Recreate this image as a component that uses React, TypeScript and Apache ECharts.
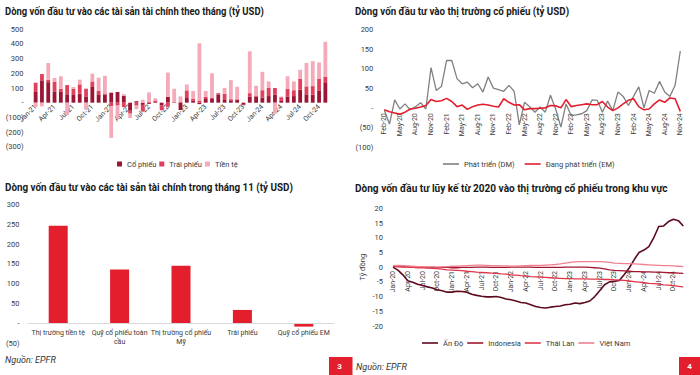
import React, { useEffect, useRef } from 'react';
import * as echarts from 'echarts';

const MON = ['Jan', 'Feb', 'Mar', 'Apr', 'May', 'Jun', 'Jul', 'Aug', 'Sep', 'Oct', 'Nov', 'Dec'];
function monthLabels(year: number, month: number, count: number): string[] {
  const out: string[] = [];
  for (let k = 0; k < count; k++) {
    const m = (month + k) % 12;
    const y = year + Math.floor((month + k) / 12);
    out.push(`${MON[m]}-${String(y % 100).padStart(2, '0')}`);
  }
  return out;
}

// Titles
const titles = [
  'Dòng vốn đầu tư vào các tài sản tài chính theo tháng (tỷ USD)',
  'Dòng vốn đầu tư vào thị trường cổ phiếu (tỷ USD)',
  'Dòng vốn đầu tư vào các tài sản tài chính trong tháng 11 (tỷ USD)',
  'Dòng vốn đầu tư lũy kế từ 2020 vào thị trường cổ phiếu trong khu vực',
];

// Panel 1: monthly flows (Jan-21 .. Nov-24)
const flowMonths = monthLabels(2021, 0, 47);
const equityFlow = [73, 148, 140, 77, 73, 57, 57, 61, 43, 107, 57, 55, 68, 73, 48, -55, 10, -15, -8, 5, -20, 40, 3, -50, 32, 15, -10, 25, 30, 55, 23, 16, 18, -15, 40, 40, 35, 45, 55, 12, 43, 45, 89, 57, 55, 84, 134];
const bondFlow = [63, 47, 15, 64, 22, 63, 38, 64, 52, 38, 23, 8, -25, -20, -30, -20, -20, -45, 5, 10, -30, -28, 2, 5, 52, 10, 15, 15, 5, 10, 38, 8, 5, 0, 25, 5, 50, 55, 45, 25, 52, 40, 75, 54, 58, 80, 41];
const moneyFlow = [-30, -25, 115, 27, 85, -85, 12, 32, -48, 53, 90, 120, -215, -90, 10, -30, -25, 20, 65, 15, -5, 165, 90, 38, 40, 55, 390, 40, 165, 0, 40, 130, 85, -5, 285, 70, 125, 45, -75, 5, 85, 60, 60, 160, 170, 110, 240];

// Panel 2: equity flows DM / EM (Feb-20 .. Nov-24)
const eqMonths = monthLabels(2020, 1, 58);
const dmFlow = [-5, -40, 21, -2, 11, -4, 4, 14, -2, 103, 45, 55, 121, 121, 75, 62, 66, 52, 62, 41, 79, 51, 47, 43, 58, 43, -42, 15, 4, -10, 3, -10, 33, -2, -48, 11, -19, -17, -14, -6, 21, 20, -10, 18, -6, 41, 30, 7, 30, 54, 1, 45, 38, 68, 41, 30, 58, 145];
const emFlow = [-4, -9, -12, -15, -10, -2, 0, 3, 7, 22, 17, 19, 25, 17, 4, 8, -3, 4, 8, 10, 8, 5, 3, 24, 15, 8, 9, -4, -1, -1, 0, 1, 7, 6, 1, 22, 4, 7, 9, 11, 9, 9, 17, 3, -6, 1, 11, 20, 24, 4, -4, -2, 11, 21, 15, 26, 24, -8];

// Panel 3: November flows by asset
const novCategories = ['Thị trường tiền tệ', 'Quỹ cổ phiếu toàn cầu', 'Thị trường cổ phiếu Mỹ', 'Trái phiếu', 'Quỹ cổ phiếu EM'];
const novValues = [246, 136, 145, 34, -8];

// Panel 4: cumulative flows since 2020 (Jan-20 .. Dec-24)
const cumMonths = monthLabels(2020, 0, 60);
const india = [0, -1, -2.6, -4.6, -5.1, -5.8, -6.2, -6.7, -7.1, -7.7, -8.0, -8.5, -8.5, -8.2, -8.3, -8.5, -9.2, -9.6, -9.9, -10.1, -10.1, -10.0, -10.3, -10.8, -11.1, -11.5, -12.0, -12.2, -12.8, -13.4, -13.7, -13.9, -13.6, -13.4, -13.2, -12.8, -12.6, -12.2, -12.4, -12.0, -11.5, -10.0, -8.0, -6.0, -5.0, -4.8, -4.5, -2.5, -0.3, 2.5, 5.0, 5.8, 7.0, 10.0, 13.8, 14.0, 15.5, 16.3, 15.8, 14.0];
const indonesia = [0.3, 0.2, 0.1, 0.1, 0.0, 0.0, 0.0, -0.1, -0.1, -0.1, -0.1, -0.1, -0.2, -0.2, -0.1, -0.1, -0.1, 0.0, 0.0, 0.0, -0.1, -0.1, -0.1, -0.1, 0.0, 0.0, 0.0, 0.0, 0.0, -0.1, -0.1, -0.1, -0.1, -0.1, -0.1, 0.0, 0.0, 0.0, 0.0, 0.0, -0.1, -0.2, -0.3, -0.6, -0.9, -1.1, -1.2, -1.3, -1.4, -1.5, -1.5, -1.6, -1.6, -1.7, -1.7, -1.8, -1.9, -1.9, -2.0, -2.1];
const thailand = [0.3, 0.2, 0.1, 0.0, -0.1, -0.2, -0.2, -0.3, -0.4, -0.5, -0.7, -0.9, -1.0, -1.1, -1.2, -1.4, -1.5, -1.7, -1.8, -1.9, -2.0, -2.1, -2.3, -2.4, -2.6, -2.7, -2.9, -3.0, -3.2, -3.3, -3.4, -3.5, -3.6, -3.7, -3.8, -3.9, -3.9, -4.0, -4.0, -4.0, -4.1, -4.1, -4.1, -4.2, -4.2, -4.3, -4.4, -4.5, -4.7, -4.9, -5.1, -5.3, -5.5, -5.6, -5.8, -6.0, -6.1, -6.3, -6.5, -6.7];
const vietnam = [0.5, 0.6, 0.5, 0.4, 0.3, 0.2, 0.2, 0.1, 0.1, 0.0, 0.1, 0.2, 0.3, 0.3, 0.4, 0.5, 0.6, 0.7, 0.7, 0.6, 0.5, 0.5, 0.4, 0.4, 0.3, 0.3, 0.4, 0.5, 0.6, 0.6, 0.6, 0.7, 0.8, 0.9, 1.1, 1.4, 1.6, 1.8, 1.9, 1.9, 1.9, 1.9, 1.9, 1.8, 1.6, 1.4, 1.3, 1.2, 1.2, 1.1, 1.0, 0.9, 0.8, 0.7, 0.6, 0.5, 0.5, 0.4, 0.3, 0.2];

const F = 'Roboto';
const TXT = '#3a3a3a';
const RED = '#e31e2d';

const paren = (v: number) => (v === 0 ? '-' : v < 0 ? `(${Math.abs(v)})` : `${v}`);

function wrapLabel(s: string): string {
  const words = s.split(' ');
  const lines: string[] = [];
  let cur = '';
  for (const w of words) {
    const next = cur ? cur + ' ' + w : w;
    if (next.length > 19 && cur) {
      lines.push(cur);
      cur = w;
    } else cur = next;
  }
  if (cur) lines.push(cur);
  return lines.join('\n');
}

export default function App() {
  const ref = useRef<HTMLDivElement>(null);
  useEffect(() => {
    if (!ref.current) return;
    const chart = echarts.init(ref.current, undefined, { renderer: 'svg' });
    const hiddenLine = { show: false, onZero: false };
    const rotLabel = (rot: number, margin: number) => ({ interval: 2, rotate: rot, fontSize: 7, color: TXT, fontFamily: F, margin });
    const yLab = (m: number, fmt?: (v: number) => string) => ({
      fontSize: 7.5, color: TXT, fontFamily: F, margin: m, formatter: fmt,
    });
    const legText = { fontSize: 7.5, color: TXT, fontFamily: F };
    const titleEl = (i: number, x: number, y: number, sx: number) => ({
      type: 'text', x, y, scaleX: sx,
      style: { text: titles[i], font: `bold 10.5px ${F}`, fill: '#1a1a1a', verticalAlign: 'middle' },
    });
    const option: any = {
      animation: false,
      backgroundColor: '#ffffff',
      textStyle: { fontFamily: F },
      grid: [
        { left: 32.5, top: 29.3, width: 296, height: 117.4 },
        { left: 384.3, top: 29.3, width: 296, height: 118.4 },
        { left: 27.5, top: 204.3, width: 307, height: 139 },
        { left: 393, top: 208.3, width: 290.3, height: 117.7 },
      ],
      xAxis: [
        { type: 'category', gridIndex: 0, data: flowMonths, axisLine: hiddenLine, axisTick: { show: false }, axisLabel: rotLabel(45, -41) },
        { type: 'category', gridIndex: 1, data: eqMonths, boundaryGap: false, axisLine: hiddenLine, axisTick: { show: false }, axisLabel: rotLabel(90, -34.5) },
        {
          type: 'category', gridIndex: 2, data: novCategories, axisLine: hiddenLine, axisTick: { show: false },
          axisLabel: { interval: 0, fontSize: 7, color: TXT, fontFamily: F, margin: -15, lineHeight: 9, formatter: (v: string) => wrapLabel(v) },
        },
        { type: 'category', gridIndex: 3, data: cumMonths, boundaryGap: false, axisLine: hiddenLine, axisTick: { show: false }, axisLabel: rotLabel(90, -55) },
      ],
      yAxis: [
        { type: 'value', gridIndex: 0, min: -300, max: 500, interval: 100, splitLine: { show: false }, axisLabel: yLab(9, paren) },
        { type: 'value', gridIndex: 1, min: -100, max: 200, interval: 50, splitLine: { show: false }, axisLabel: yLab(11, paren) },
        { type: 'value', gridIndex: 2, min: -50, max: 300, interval: 50, splitLine: { show: false }, axisLabel: yLab(8, paren) },
        {
          type: 'value', gridIndex: 3, min: -20, max: 20, interval: 5, splitLine: { show: false }, axisLabel: yLab(10),
          name: 'Tỷ đồng', nameLocation: 'middle', nameGap: 27, nameRotate: 90,
          nameTextStyle: { fontSize: 7.5, color: TXT, fontFamily: F },
        },
      ],
      legend: [
        {
          data: ['Cổ phiếu', 'Trái phiếu', 'Tiền tệ'], left: 112, top: 155, icon: 'rect', itemWidth: 5, itemHeight: 5, itemGap: 3,
          textStyle: legText,
        },
        {
          data: ['Phát triển (DM)', 'Đang phát triển (EM)'], left: 438, top: 155, icon: 'rect', itemWidth: 16, itemHeight: 1.6, itemGap: 10,
          textStyle: legText,
        },
        {
          data: ['Ấn Độ', 'Indonesia', 'Thái Lan', 'Việt Nam'], left: 417, top: 334, icon: 'rect', itemWidth: 16, itemHeight: 1.6, itemGap: 4,
          textStyle: legText,
        },
      ],
      series: [
        { name: 'Cổ phiếu', type: 'bar', xAxisIndex: 0, yAxisIndex: 0, stack: 'flow', barWidth: 3.8, data: equityFlow, itemStyle: { color: '#9b1535' } },
        { name: 'Trái phiếu', type: 'bar', xAxisIndex: 0, yAxisIndex: 0, stack: 'flow', barWidth: 3.8, data: bondFlow, itemStyle: { color: '#e0405c' } },
        { name: 'Tiền tệ', type: 'bar', xAxisIndex: 0, yAxisIndex: 0, stack: 'flow', barWidth: 3.8, data: moneyFlow, itemStyle: { color: '#f4aab8' } },
        { name: 'Phát triển (DM)', type: 'line', xAxisIndex: 1, yAxisIndex: 1, data: dmFlow, symbol: 'none', lineStyle: { color: '#808080', width: 1.3 }, itemStyle: { color: '#808080' } },
        { name: 'Đang phát triển (EM)', type: 'line', xAxisIndex: 1, yAxisIndex: 1, data: emFlow, symbol: 'none', lineStyle: { color: RED, width: 1.6 }, itemStyle: { color: RED } },
        {
          name: 'Tháng 11', type: 'bar', xAxisIndex: 2, yAxisIndex: 2, data: novValues, barWidth: 19, itemStyle: { color: RED },
          markLine: {
            silent: true, symbol: 'none', label: { show: false }, animation: false,
            lineStyle: { color: '#d9d9d9', type: 'solid', width: 1 }, data: [{ yAxis: 0 }],
          },
        },
        { name: 'Ấn Độ', type: 'line', xAxisIndex: 3, yAxisIndex: 3, data: india, symbol: 'none', lineStyle: { color: '#5c0b1e', width: 1.6 }, itemStyle: { color: '#5c0b1e' } },
        { name: 'Indonesia', type: 'line', xAxisIndex: 3, yAxisIndex: 3, data: indonesia, symbol: 'none', lineStyle: { color: '#a3162e', width: 1.3 }, itemStyle: { color: '#a3162e' } },
        { name: 'Thái Lan', type: 'line', xAxisIndex: 3, yAxisIndex: 3, data: thailand, symbol: 'none', lineStyle: { color: '#e0364a', width: 1.3 }, itemStyle: { color: '#e0364a' } },
        { name: 'Việt Nam', type: 'line', xAxisIndex: 3, yAxisIndex: 3, data: vietnam, symbol: 'none', lineStyle: { color: '#f08090', width: 1.3 }, itemStyle: { color: '#f08090' } },
      ],
      graphic: [
        titleEl(0, 5, 11, 0.9),
        titleEl(1, 355, 11, 0.93),
        titleEl(2, 5, 187, 0.94),
        titleEl(3, 355, 188, 0.96),
        { type: 'text', x: 5, y: 360, style: { text: 'Nguồn: EPFR', font: `italic 9px ${F}`, fill: '#333', verticalAlign: 'middle' } },
        { type: 'rect', shape: { x: 329, y: 357, width: 21, height: 18 }, style: { fill: RED } },
        { type: 'text', x: 339.5, y: 366, style: { text: '3', font: `bold 8px ${F}`, fill: '#fff', align: 'center', verticalAlign: 'middle' } },
        { type: 'rect', shape: { x: 350, y: 357, width: 2.5, height: 18 }, style: { fill: RED } },
        { type: 'text', x: 356, y: 367, style: { text: 'Nguồn: EPFR', font: `italic 9px ${F}`, fill: '#333', verticalAlign: 'middle' } },
        { type: 'rect', shape: { x: 679, y: 357, width: 21, height: 18 }, style: { fill: RED } },
        { type: 'text', x: 689.5, y: 366, style: { text: '4', font: `bold 8px ${F}`, fill: '#fff', align: 'center', verticalAlign: 'middle' } },
      ],
    };
    chart.setOption(option);
    return () => chart.dispose();
  }, []);
  return <div ref={ref} style={{ width: 700, height: 375, position: 'absolute', left: 0, top: 0 }} />;
}
